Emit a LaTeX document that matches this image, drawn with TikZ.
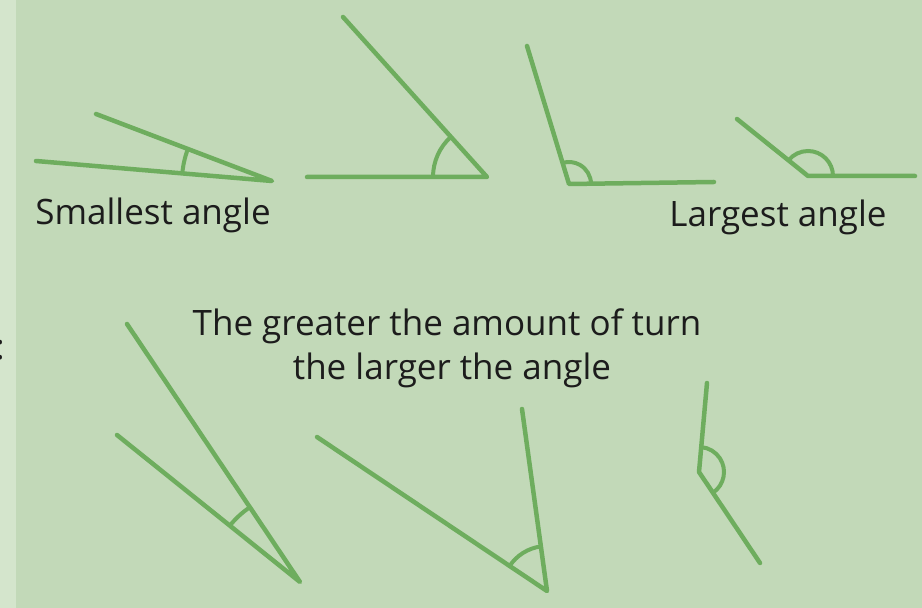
\documentclass[tikz,border=0pt]{standalone}
\usepackage{fontspec}
\setmainfont{Open Sans}
\usetikzlibrary{angles}
\definecolor{bgGreen}{HTML}{C2D9B8}
\definecolor{stripGreen}{HTML}{D4E5CC}
\definecolor{armGreen}{HTML}{6EAD5E}
\definecolor{inkBlack}{HTML}{1C1C1C}

\begin{document}
\begin{tikzpicture}[x=1pt, y=1pt,
    arm/.style={draw=armGreen, line width=4.5pt, line cap=round, line join=round},
    turn/.style={draw=armGreen, line width=4pt},
    words/.style={text=inkBlack, font=\fontsize{35}{44}\selectfont, inner sep=0pt, anchor=base}]
    % background and left strip
    \fill[bgGreen] (0,0) rectangle (922,608);
    \fill[stripGreen] (0,0) rectangle (16,608);
    \useasboundingbox (0,0) rectangle (922,608);
    \node[words] (cut) at (0,248) {:};

    % top row: smallest to largest
    \coordinate (v1) at (272,427); \coordinate (a1) at (36,447); \coordinate (b1) at (96,494);
    \draw[arm] (a1) -- (v1) -- (b1);
    \pic[turn, angle radius=90pt] {angle = b1--v1--a1};

    \coordinate (v2) at (487,431); \coordinate (a2) at (307,431); \coordinate (b2) at (343,591);
    \draw[arm] (a2) -- (v2) -- (b2);
    \pic[turn, angle radius=54pt] {angle = b2--v2--a2};

    \coordinate (v3) at (569,424); \coordinate (a3) at (714,426); \coordinate (b3) at (527,562);
    \draw[arm] (a3) -- (v3) -- (b3);
    \pic[turn, angle radius=22pt] {angle = a3--v3--b3};

    \coordinate (v4) at (808,432); \coordinate (a4) at (915,432); \coordinate (b4) at (737,489);
    \draw[arm] (a4) -- (v4) -- (b4);
    \pic[turn, angle radius=25pt] {angle = a4--v4--b4};

    \node[words] (small) at (153,383) {Smallest angle};
    \node[words] (large) at (778,381) {Largest angle};

    % middle text
    \node[words] (turnTop) at (447,272) {The greater the amount of turn};
    \node[words] (turnBot) at (452,228) {the larger the angle};

    % bottom row
    \coordinate (v5) at (300,26); \coordinate (a5) at (127,284); \coordinate (b5) at (117,173);
    \draw[arm] (a5) -- (v5) -- (b5);
    \pic[turn, angle radius=90pt] {angle = a5--v5--b5};

    \coordinate (v6) at (547,17); \coordinate (a6) at (522,199); \coordinate (b6) at (317,171);
    \draw[arm] (a6) -- (v6) -- (b6);
    \pic[turn, angle radius=45pt] {angle = a6--v6--b6};

    \coordinate (v7) at (699,136); \coordinate (a7) at (760,45); \coordinate (b7) at (707,225);
    \draw[arm] (a7) -- (v7) -- (b7);
    \pic[turn, angle radius=25pt] {angle = a7--v7--b7};
\end{tikzpicture}
\end{document}
